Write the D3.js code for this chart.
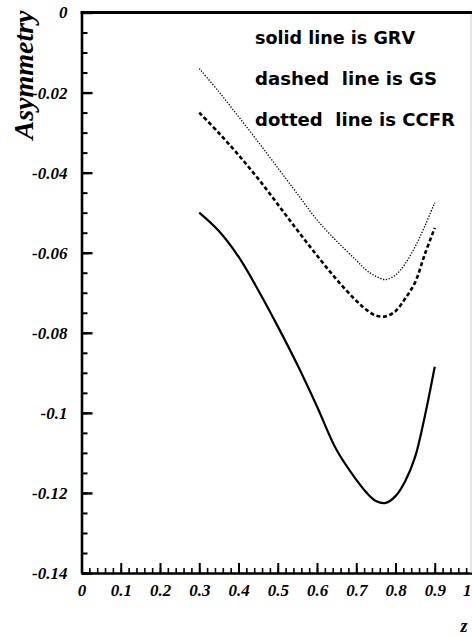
<!DOCTYPE html>
<html lang="en">
<head>
    <meta charset="UTF-8">
    <title>Asymmetry vs z</title>
    <script src="https://cdnjs.cloudflare.com/ajax/libs/d3/7.8.5/d3.min.js"></script>
    <style>
        body { margin: 0; background: #fff; }
        .tick text { font-family: "Liberation Serif", serif; font-style: italic; font-weight: bold; font-size: 17px; fill: #000; }
    </style>
</head>
<body>
    <div id="chart"></div>
    <script>
        const zValues = [0.30, 0.35, 0.40, 0.45, 0.50, 0.55, 0.60, 0.65, 0.70, 0.725, 0.75, 0.775, 0.80, 0.825, 0.85, 0.875, 0.90];
        // solid = GRV
        const grv = [-0.050, -0.0546, -0.061, -0.0693, -0.0784, -0.088, -0.0984, -0.1093, -0.1167, -0.1198, -0.1220, -0.1225, -0.1208, -0.117, -0.111, -0.1007, -0.0885];
        // dashed = GS
        const gs = [-0.025, -0.0301, -0.0356, -0.0415, -0.0479, -0.0544, -0.0607, -0.0667, -0.072, -0.0742, -0.0757, -0.0759, -0.0746, -0.0714, -0.0674, -0.0603, -0.0538];
        // dotted = CCFR
        const ccfr = [-0.014, -0.0198, -0.026, -0.0323, -0.0388, -0.0453, -0.0518, -0.0571, -0.0619, -0.0643, -0.0659, -0.0667, -0.0656, -0.0627, -0.0585, -0.0533, -0.0475];

        const xTicks = [0, 0.1, 0.2, 0.3, 0.4, 0.5, 0.6, 0.7, 0.8, 0.9, 1];
        const xTickLabels = ['0', '0.1', '0.2', '0.3', '0.4', '0.5', '0.6', '0.7', '0.8', '0.9', '1'];
        const yTicks = [0, -0.02, -0.04, -0.06, -0.08, -0.1, -0.12, -0.14];
        const yTickLabels = ['0', '-0.02', '-0.04', '-0.06', '-0.08', '-0.1', '-0.12', '-0.14'];
        const legendLines = ['solid line is GRV', 'dashed  line is GS', 'dotted  line is CCFR'];
        const legendWidths = [160, 182, 200];

        const width = 472, height = 636;
        const svg = d3.select('#chart').append('svg')
            .attr('width', width)
            .attr('height', height);

        const x = d3.scaleLinear().domain([0, 1]).range([81.5, 474]);
        const y = d3.scaleLinear().domain([-0.14, 0]).range([573, 12.5]);

        // minor ticks
        svg.append('g')
            .attr('transform', `translate(${x(0)},0)`)
            .call(d3.axisLeft(y).tickValues(d3.range(0, 29).map(i => -i * 0.005)).tickSize(-6).tickFormat(''))
            .call(g => g.select('.domain').remove())
            .selectAll('line').attr('stroke-width', 2);
        svg.append('g')
            .attr('transform', `translate(0,${y(-0.14)})`)
            .call(d3.axisBottom(x).tickValues(d3.range(0, 51).map(i => i * 0.02)).tickSize(-5).tickFormat(''))
            .call(g => g.select('.domain').remove())
            .selectAll('line').attr('stroke-width', 1.6);

        // main axes
        const yAxis = svg.append('g')
            .attr('transform', `translate(${x(0)},0)`)
            .call(d3.axisLeft(y).tickValues(yTicks).tickSize(-11).tickSizeOuter(0).tickPadding(14)
                .tickFormat((d, i) => yTickLabels[i]));
        yAxis.select('.domain').attr('stroke-width', 2.6);
        yAxis.selectAll('.tick line').attr('stroke-width', 2.4);

        const xAxis = svg.append('g')
            .attr('transform', `translate(0,${y(-0.14)})`)
            .call(d3.axisBottom(x).tickValues(xTicks).tickSize(-10).tickSizeOuter(0).tickPadding(11)
                .tickFormat((d, i) => xTickLabels[i]));
        xAxis.select('.domain').attr('stroke-width', 2.6);
        xAxis.selectAll('.tick line').attr('stroke-width', 2);
        // last label sits on the page edge, keep it inside
        xAxis.selectAll('.tick text').filter(d => d === 1)
            .attr('text-anchor', 'end').attr('x', -3);

        // frame top + faint right edge
        svg.append('line')
            .attr('x1', x(0) - 1).attr('x2', width).attr('y1', y(0)).attr('y2', y(0))
            .attr('stroke', '#000').attr('stroke-width', 3);
        svg.append('line')
            .attr('x1', 471).attr('x2', 471).attr('y1', y(0) + 2).attr('y2', y(-0.14))
            .attr('stroke', '#c8c8c8').attr('stroke-width', 1);

        // curves
        const line = d3.line()
            .x((d, i) => x(zValues[i]))
            .y(d => y(d))
            .curve(d3.curveCatmullRom.alpha(0.5));

        svg.append('path').datum(grv)
            .attr('d', line).attr('fill', 'none')
            .attr('stroke', '#000').attr('stroke-width', 2.2);
        svg.append('path').datum(gs)
            .attr('d', line).attr('fill', 'none')
            .attr('stroke', '#000').attr('stroke-width', 2.6)
            .attr('stroke-dasharray', '4 2.6');
        svg.append('path').datum(ccfr)
            .attr('d', line).attr('fill', 'none')
            .attr('stroke', '#000').attr('stroke-width', 1.3)
            .attr('stroke-dasharray', '1.3 1.6');

        // legend text
        svg.selectAll('.legend')
            .data(legendLines)
            .enter()
            .append('text')
            .attr('class', 'legend')
            .attr('x', 255)
            .attr('y', (d, i) => 44 + i * 41)
            .attr('xml:space', 'preserve')
            .style('white-space', 'pre')
            .attr('textLength', (d, i) => legendWidths[i])
            .attr('lengthAdjust', 'spacingAndGlyphs')
            .attr('font-family', '"DejaVu Sans", sans-serif')
            .attr('font-weight', 'bold')
            .attr('font-size', 18)
            .text(d => d);

        // axis titles
        svg.append('text')
            .attr('transform', 'translate(33,75) rotate(-90)')
            .attr('text-anchor', 'middle')
            .attr('font-family', '"Liberation Serif", serif')
            .attr('font-style', 'italic')
            .attr('font-weight', 'bold')
            .attr('font-size', 28)
            .text('Asymmetry');

        svg.append('text')
            .attr('x', 464)
            .attr('y', 632)
            .attr('text-anchor', 'middle')
            .attr('font-family', '"Liberation Serif", serif')
            .attr('font-style', 'italic')
            .attr('font-weight', 'bold')
            .attr('font-size', 18)
            .text('z');
    </script>
</body>
</html>
